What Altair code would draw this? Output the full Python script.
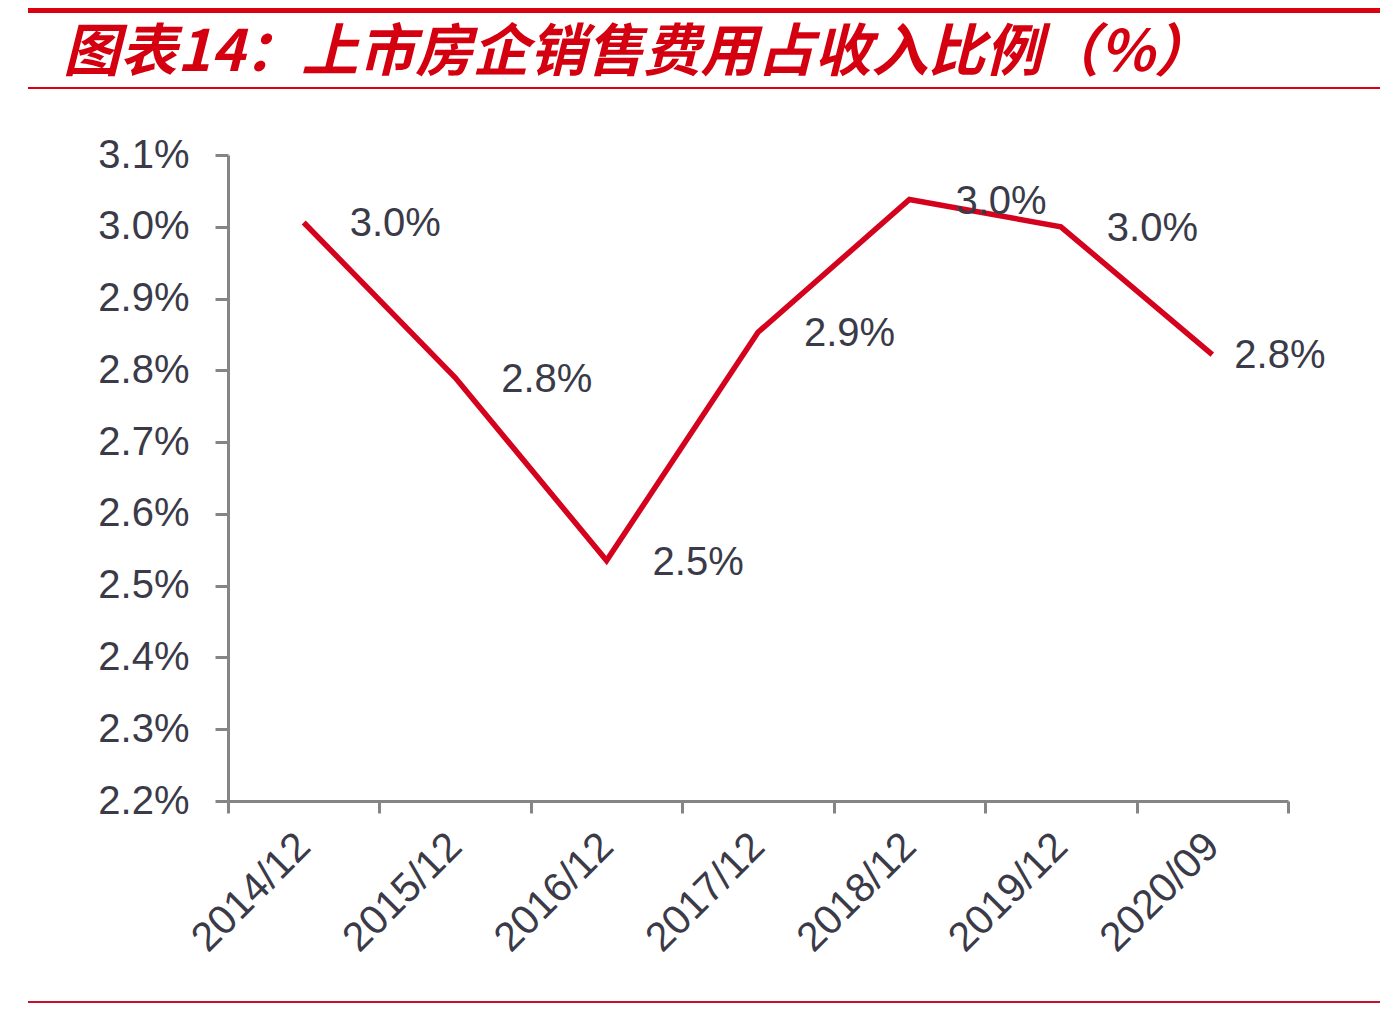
import altair as alt
import pandas as pd

# ---- data ----
periods = ["2014/12", "2015/12", "2016/12", "2017/12", "2018/12", "2019/12", "2020/09"]
ratio_pct = [3.006, 2.790, 2.535, 2.853, 3.038, 3.000, 2.822]
y_ticks = [2.2, 2.3, 2.4, 2.5, 2.6, 2.7, 2.8, 2.9, 3.0, 3.1]
title_text = "图表14：上市房企销售费用占收入比例（%）"

df = pd.DataFrame({"period": periods, "ratio": ratio_pct})

RED = "#D4021D"
TITLE_RED = "#D40010"
TEXT = "#3a3a48"
AXIS = "#858585"
FONT = "Liberation Sans"

W, H = 1060, 646

x_enc = alt.X(
    "period:O",
    sort=periods,
    scale=alt.Scale(type="band", paddingInner=0, paddingOuter=0),
    bandPosition=0.5,
    axis=alt.Axis(
        title=None,
        tickBand="extent",
        labelAngle=-45,
        labelAlign="right",
        labelBaseline="middle",
        labelFont=FONT,
        labelFontSize=41,
        labelColor=TEXT,
        labelPadding=27,
        tickSize=12,
        tickWidth=3,
        tickColor=AXIS,
        domainColor=AXIS,
        domainWidth=3,
        grid=False,
    ),
)
y_enc = alt.Y(
    "ratio:Q",
    scale=alt.Scale(domain=[2.2, 3.1], nice=False, zero=False),
    axis=alt.Axis(
        title=None,
        values=y_ticks,
        labelExpr="format(datum.value, '.1f') + '%'",
        labelFont=FONT,
        labelFontSize=40,
        labelColor=TEXT,
        labelPadding=26,
        tickSize=13,
        tickWidth=3,
        tickColor=AXIS,
        domainColor=AXIS,
        domainWidth=3,
        grid=False,
    ),
)

base = alt.Chart(df)

line = base.mark_line(color=RED, strokeWidth=5.5, strokeJoin="miter").encode(x=x_enc, y=y_enc)

label_calc = "format(datum.ratio, '.1f') + '%'"
labels_main = (
    base.transform_filter(alt.datum.period != periods[-1])
    .transform_calculate(label=label_calc)
    .mark_text(align="left", baseline="middle", dx=46, dy=2, font=FONT, fontSize=40, color=TEXT)
    .encode(x=x_enc, y=y_enc, text="label:N")
)
labels_last = (
    base.transform_filter(alt.datum.period == periods[-1])
    .transform_calculate(label=label_calc)
    .mark_text(align="left", baseline="middle", dx=22, dy=1, font=FONT, fontSize=40, color=TEXT)
    .encode(x=x_enc, y=y_enc, text="label:N")
)

# decorations: red header bars and footer line
top_bar = alt.Chart(df).mark_rule(color="#D9000F", strokeWidth=6).encode(
    x=alt.value(-200), x2=alt.value(1152), y=alt.value(-145)
)
title_rule = alt.Chart(df).mark_rule(color="#D9000F", strokeWidth=2).encode(
    x=alt.value(-200), x2=alt.value(1152), y=alt.value(-67)
)
bottom_rule = alt.Chart(df).mark_rule(color="#C8102E", strokeWidth=2).encode(
    x=alt.value(-200), x2=alt.value(1152), y=alt.value(847)
)

chart = (
    alt.layer(line, labels_main, labels_last, top_bar, title_rule, bottom_rule)
    .properties(
        width=W,
        height=H,
        title=alt.TitleParams(
            text=title_text,
            anchor="start",
            frame="group",
            orient="top",
            baseline="middle",
            font="Noto Sans CJK SC",
            fontSize=57,
            fontStyle="italic",
            fontWeight="bold",
            color=TITLE_RED,
            dx=-165,
            dy=104,
            offset=0,
        ),
        autosize=alt.AutoSizeParams(type="none"),
        padding={"left": 220, "top": 147, "right": 96, "bottom": 202},
        background="white",
    )
    .configure_view(stroke=None)
)

chart.save("out.html", embed_options={"renderer": "svg", "actions": False})
